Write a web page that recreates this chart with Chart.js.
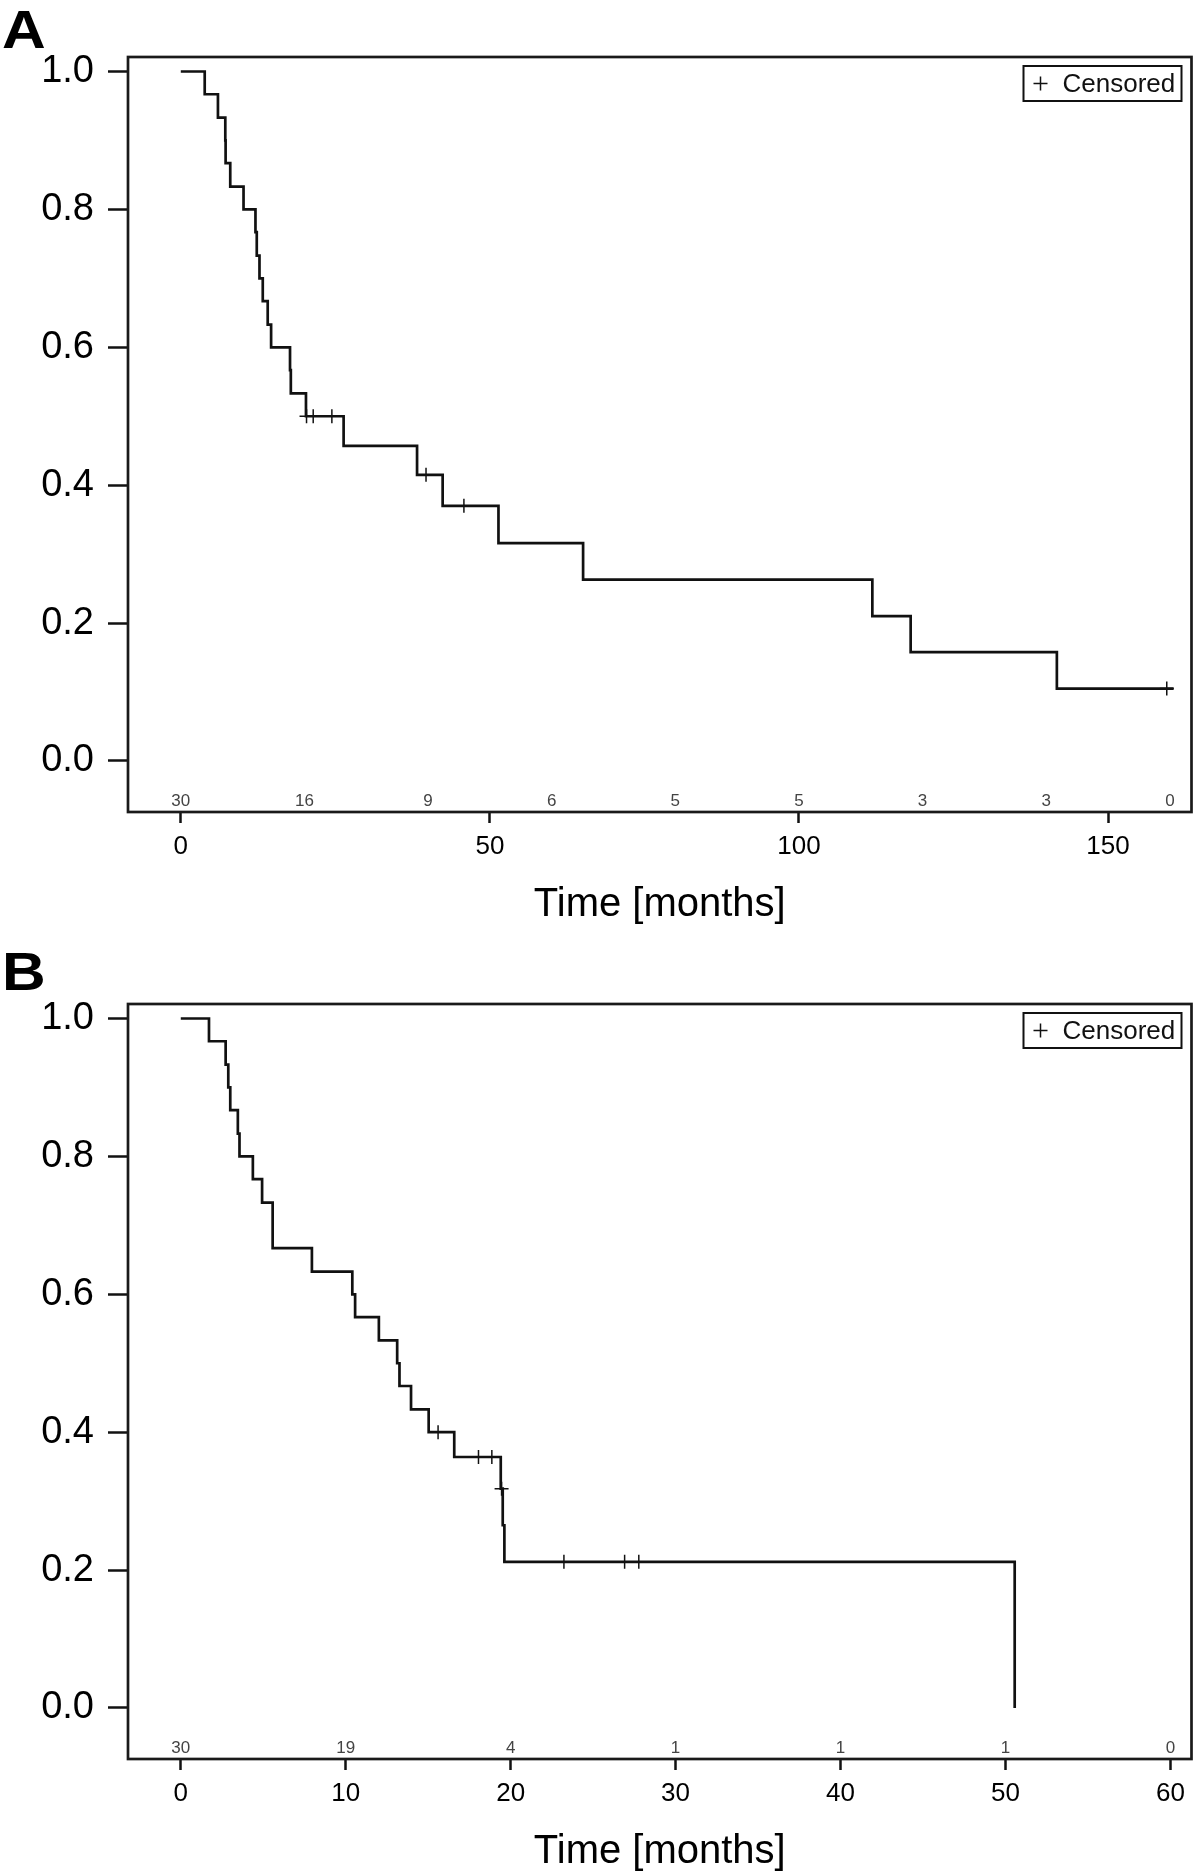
<!DOCTYPE html>
<html>
<head>
<meta charset="utf-8">
<script src="https://cdn.jsdelivr.net/npm/chart.js@4.4.1/dist/chart.umd.min.js"></script>
<style>
    body { margin: 0; background: #fff; width: 1200px; height: 1876px; position: relative; overflow: hidden; }
    canvas { position: absolute; left: 0; }
    #chartA { top: 0; }
    #chartB { top: 947px; }
    .panel-letter {
        position: absolute;
        left: 2px;
        font-family: 'Liberation Sans', Arial, sans-serif;
        font-weight: bold;
        font-size: 54px;
        line-height: 1;
        color: #000;
        transform: scaleX(1.12);
        transform-origin: left top;
    }
</style>
</head>
<body>
<div class="panel-letter" style="top: 2px;">A</div>
<div class="panel-letter" style="top: 944px;">B</div>
<canvas id="chartA" width="1200" height="929"></canvas>
<canvas id="chartB" width="1200" height="929"></canvas>
<script>
// Panel A - Kaplan-Meier steps (time in months, survival after the step)
const timesA = [0, 3.87, 6.01, 7.2, 7.25, 8.0, 10.15, 12.08, 12.29, 12.73, 13.26, 14.06, 14.61, 17.67, 17.8, 20.25, 26.34, 38.22, 42.36, 51.39, 65.08, 111.87, 118.07, 141.72, 160.6];
const survA = [1.0, 0.967, 0.933, 0.9, 0.867, 0.833, 0.8, 0.767, 0.733, 0.7, 0.667, 0.633, 0.6, 0.567, 0.533, 0.5, 0.457, 0.415, 0.37, 0.316, 0.263, 0.21, 0.158, 0.105, 0.105];
const censorTimesA = [20.34, 21.42, 24.44, 39.67, 45.8, 159.5];
const censorSurvA = [0.5, 0.5, 0.5, 0.415, 0.37, 0.105];
const xTicksA = [0, 50, 100, 150];
const riskTimesA = [0, 20, 40, 60, 80, 100, 120, 140, 160];
const riskCountsA = [30, 16, 9, 6, 5, 5, 3, 3, 0];

// Panel B
const timesB = [0, 1.71, 2.72, 2.88, 3.0, 3.46, 3.56, 4.37, 4.93, 5.57, 7.95, 10.4, 10.57, 12.01, 13.12, 13.26, 13.96, 15.03, 16.58, 19.4, 19.52, 19.62, 50.56];
const survB = [1.0, 0.967, 0.933, 0.9, 0.867, 0.833, 0.8, 0.767, 0.733, 0.667, 0.633, 0.6, 0.567, 0.533, 0.5, 0.467, 0.433, 0.4, 0.364, 0.318, 0.265, 0.212, 0.0];
const censorTimesB = [15.6, 18.05, 18.86, 19.45, 23.23, 26.91, 27.77];
const censorSurvB = [0.4, 0.364, 0.364, 0.318, 0.212, 0.212, 0.212];
const xTicksB = [0, 10, 20, 30, 40, 50, 60];
const riskTimesB = [0, 10, 20, 30, 40, 50, 60];
const riskCountsB = [30, 19, 4, 1, 1, 1, 0];

const yTicks = [0, 0.2, 0.4, 0.6, 0.8, 1.0];
const xTitle = 'Time [months]';

Chart.defaults.font.family = "'Liberation Sans', Arial, sans-serif";
Chart.defaults.color = '#000';

// box around the plot area
const framePlugin = {
    id: 'frame',
    afterDraw(chart) {
        const a = chart.chartArea;
        const ctx = chart.ctx;
        ctx.save();
        ctx.strokeStyle = '#1a1a1a';
        ctx.lineWidth = 2.7;
        ctx.strokeRect(a.left, a.top, a.right - a.left, a.bottom - a.top);
        ctx.restore();
    }
};

// numbers at risk just above the x axis
const atRiskPlugin = {
    id: 'atRisk',
    afterDatasetsDraw(chart, args, opts) {
        const ctx = chart.ctx;
        const xScale = chart.scales.x;
        ctx.save();
        ctx.font = "17px 'Liberation Sans', Arial, sans-serif";
        ctx.fillStyle = '#444';
        ctx.textAlign = 'center';
        ctx.textBaseline = 'alphabetic';
        opts.times.forEach((t, i) => {
            ctx.fillText(String(opts.counts[i]), xScale.getPixelForValue(t), chart.chartArea.bottom - 6);
        });
        ctx.restore();
    }
};

// "+ Censored" key in the top right corner
const censorKeyPlugin = {
    id: 'censorKey',
    afterDraw(chart) {
        const ctx = chart.ctx;
        const a = chart.chartArea;
        const w = 158, h = 35;
        const left = a.right - 10 - w;
        const top = a.top + 9;
        const mid = top + h / 2;
        ctx.save();
        ctx.strokeStyle = '#111';
        ctx.lineWidth = 2;
        ctx.strokeRect(left, top, w, h);
        ctx.lineWidth = 1.5;
        ctx.beginPath();
        ctx.moveTo(left + 10, mid);
        ctx.lineTo(left + 24, mid);
        ctx.moveTo(left + 17, mid - 7);
        ctx.lineTo(left + 17, mid + 7);
        ctx.stroke();
        ctx.font = "26px 'Liberation Sans', Arial, sans-serif";
        ctx.fillStyle = '#111';
        ctx.textBaseline = 'middle';
        ctx.fillText(chart.data.datasets[1].label, left + 39, mid + 1);
        ctx.restore();
    }
};

function makeConfig(times, surv, cTimes, cSurv, xTicks, xMin, xMax, riskTimes, riskCounts) {
    return {
        type: 'scatter',
        data: {
            datasets: [
                {
                    label: 'Survival',
                    data: times.map((t, i) => ({ x: t, y: surv[i] })),
                    showLine: true,
                    stepped: true,
                    borderColor: '#111',
                    borderWidth: 2.7,
                    pointRadius: 0,
                    fill: false
                },
                {
                    label: 'Censored',
                    data: cTimes.map((t, i) => ({ x: t, y: cSurv[i] })),
                    showLine: false,
                    pointStyle: 'cross',
                    pointRadius: 7,
                    pointBorderWidth: 1.5,
                    pointBorderColor: '#111',
                    pointBackgroundColor: '#111'
                }
            ]
        },
        options: {
            responsive: false,
            animation: false,
            layout: {
                padding: { top: 57, right: 4, left: 0, bottom: 0 }
            },
            scales: {
                x: {
                    type: 'linear',
                    min: xMin,
                    max: xMax,
                    afterBuildTicks: (axis) => { axis.ticks = xTicks.map(v => ({ value: v })); },
                    afterFit: (axis) => { axis.height = 117; },
                    ticks: {
                        autoSkip: false,
                        maxRotation: 0,
                        padding: 8,
                        color: '#000',
                        font: { size: 26 },
                        callback: (v) => String(v)
                    },
                    grid: {
                        drawOnChartArea: false,
                        drawTicks: true,
                        tickLength: 11,
                        tickWidth: 2.5,
                        tickColor: '#111'
                    },
                    border: { display: false },
                    title: {
                        display: true,
                        text: xTitle,
                        color: '#000',
                        font: { size: 40 },
                        padding: { top: 0, bottom: 0 }
                    }
                },
                y: {
                    type: 'linear',
                    min: -0.074,
                    max: 1.021,
                    afterBuildTicks: (axis) => { axis.ticks = yTicks.map(v => ({ value: v })); },
                    afterFit: (axis) => { axis.width = 128; },
                    ticks: {
                        padding: 14,
                        color: '#000',
                        font: { size: 38 },
                        callback: (v) => v.toFixed(1)
                    },
                    grid: {
                        drawOnChartArea: false,
                        drawTicks: true,
                        tickLength: 20,
                        tickWidth: 2.5,
                        tickColor: '#111'
                    },
                    border: { display: false }
                }
            },
            plugins: {
                legend: { display: false },
                tooltip: { enabled: false },
                atRisk: { times: riskTimes, counts: riskCounts }
            }
        },
        plugins: [framePlugin, atRiskPlugin, censorKeyPlugin]
    };
}

function generateCharts() {
    const ctxA = document.getElementById('chartA').getContext('2d');
    const ctxB = document.getElementById('chartB').getContext('2d');
    new Chart(ctxA, makeConfig(timesA, survA, censorTimesA, censorSurvA, xTicksA, -8.54, 163.5, riskTimesA, riskCountsA));
    new Chart(ctxB, makeConfig(timesB, survB, censorTimesB, censorSurvB, xTicksB, -3.2, 61.28, riskTimesB, riskCountsB));
}

window.onload = generateCharts;
</script>
</body>
</html>
